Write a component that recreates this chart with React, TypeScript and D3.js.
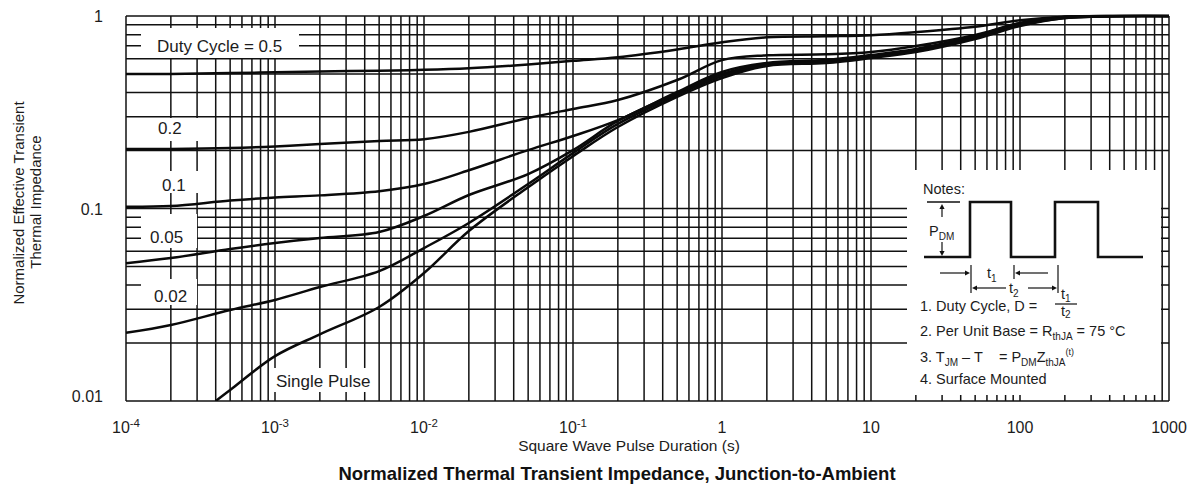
import React from "react";
import * as d3 from "d3";

const W = 1191;
const H = 487;

// Pulse durations (s) at which each duty-cycle curve is sampled
const pulseTimes = [1e-4, 2e-4, 5e-4, 1e-3, 2e-3, 5e-3, 1e-2, 2e-2, 5e-2, 0.1, 0.2, 0.5, 1, 2, 5, 10, 20, 50, 100, 200, 500, 1000];
const singlePulseTimes = [4e-4, 5e-4, 1e-3, 2e-3, 5e-3, 1e-2, 2e-2, 5e-2, 0.1, 0.2, 0.5, 1, 2, 5, 10, 20, 50, 100, 200, 500, 1000];

// Normalized effective transient thermal impedance, per duty cycle
const duty05 = [0.5, 0.5, 0.505, 0.51, 0.515, 0.52, 0.525, 0.535, 0.56, 0.585, 0.61, 0.67, 0.73, 0.775, 0.785, 0.795, 0.825, 0.88, 0.95, 0.99, 1, 1];
const duty02 = [0.204, 0.204, 0.206, 0.21, 0.216, 0.224, 0.229, 0.25, 0.295, 0.329, 0.366, 0.465, 0.59, 0.625, 0.632, 0.65, 0.698, 0.797, 0.92, 0.988, 1, 1];
const duty01 = [0.102, 0.103, 0.11, 0.114, 0.117, 0.123, 0.134, 0.158, 0.201, 0.238, 0.288, 0.403, 0.512, 0.57, 0.591, 0.627, 0.674, 0.787, 0.92, 0.988, 1, 1];
const duty005 = [0.052, 0.0553, 0.0616, 0.0662, 0.0703, 0.0755, 0.0914, 0.1175, 0.151, 0.201, 0.285, 0.398, 0.5, 0.563, 0.584, 0.62, 0.666, 0.778, 0.909, 0.988, 1, 1];
const duty002 = [0.0226, 0.0248, 0.0297, 0.0335, 0.0391, 0.0473, 0.0623, 0.0841, 0.134, 0.194, 0.275, 0.389, 0.488, 0.557, 0.577, 0.612, 0.658, 0.769, 0.898, 0.976, 1, 1];
const singlePulse = [0.01, 0.0114, 0.0171, 0.0222, 0.0308, 0.0462, 0.0764, 0.129, 0.187, 0.265, 0.38, 0.476, 0.55, 0.57, 0.605, 0.65, 0.76, 0.887, 0.976, 1, 1];

// Axis ticks
const xTickValues = [1e-4, 1e-3, 1e-2, 1e-1, 1, 10, 100, 1000];
const xTickBase = ["10", "10", "10", "10", "1", "10", "100", "1000"];
const xTickExp = ["-4", "-3", "-2", "-1", "", "", "", ""];
const yTickValues = [1, 0.1, 0.01];
const yTickLabels = ["1", "0.1", "0.01"];

const curveLabels = ["Duty Cycle = 0.5", "0.2", "0.1", "0.05", "0.02", "Single Pulse"];

const FONT = "'Liberation Sans', Arial, Helvetica, sans-serif";
const INK = "#1c1c1c";

type Pt = [number, number];

function arrowHead(x: number, y: number, dir: "up" | "down" | "left" | "right", key: string) {
  const s = 5;
  const w = 2.6;
  let d = "";
  if (dir === "up") d = `M${x},${y} L${x - w},${y + s} L${x + w},${y + s} Z`;
  if (dir === "down") d = `M${x},${y} L${x - w},${y - s} L${x + w},${y - s} Z`;
  if (dir === "left") d = `M${x},${y} L${x + s},${y - w} L${x + s},${y + w} Z`;
  if (dir === "right") d = `M${x},${y} L${x - s},${y - w} L${x - s},${y + w} Z`;
  return <path key={key} d={d} fill="#111" />;
}

export default function App() {
  const x = d3.scaleLog().domain([1e-4, 1e3]).range([126, 1169]);
  const y = d3.scaleLog().domain([0.01, 1]).range([401, 16]);

  const xGrid: number[] = [];
  for (let k = -4; k <= 2; k++) for (let m = 1; m <= 9; m++) xGrid.push(m * Math.pow(10, k));
  xGrid.push(1000);
  const yGrid: number[] = [];
  for (let k = -2; k <= -1; k++) for (let m = 1; m <= 9; m++) yGrid.push(m * Math.pow(10, k));
  yGrid.push(1);

  const series: { t: number[]; z: number[] }[] = [
    { t: pulseTimes, z: duty05 },
    { t: pulseTimes, z: duty02 },
    { t: pulseTimes, z: duty01 },
    { t: pulseTimes, z: duty005 },
    { t: pulseTimes, z: duty002 },
    { t: singlePulseTimes, z: singlePulse },
  ];

  const line = d3
    .line<Pt>()
    .x((d) => x(d[0]))
    .y((d) => y(d[1]))
    .curve(d3.curveCatmullRom.alpha(0.5));

  // label placement: [text x, baseline y, white backing box x0, y0, x1, y1]
  const labelLayout: [number, number, number, number, number, number][] = [
    [157, 52, 141, 28, 299, 58],
    [158, 134, 141, 118, 204, 141],
    [162, 191, 141, 171, 205, 193],
    [150, 243, 141, 214, 197, 248],
    [154, 302, 141, 279, 197, 305],
    [276, 387, 272, 368, 372, 392],
  ];

  const [x0, x1] = x.range();
  const [yb, yt] = y.range();

  // notes panel origin
  const nx = 907;
  const ny = 170;

  const subFs = 10;
  const nb = "\u00a0";

  return (
    <svg
      width={W}
      height={H}
      viewBox={`0 0 ${W} ${H}`}
      style={{ position: "absolute", left: 0, top: 0, background: "#fff" }}
      fontFamily={FONT}
    >
      <defs>
        <clipPath id="plot-clip">
          <rect x={x0 - 2} y={yt - 1.5} width={x1 - x0 + 4} height={yb - yt + 1.5} />
        </clipPath>
      </defs>
      <rect x={0} y={0} width={W} height={H} fill="#fff" />

      {/* grid */}
      <g stroke="#111" strokeWidth={1.5}>
        {xGrid.map((v, i) => (
          <line key={"vx" + i} x1={x(v)} x2={x(v)} y1={yt} y2={yb} />
        ))}
        {yGrid.map((v, i) => (
          <line key={"hy" + i} x1={x0} x2={x1} y1={y(v)} y2={y(v)} />
        ))}
      </g>

      {/* white backings behind labels and notes */}
      {labelLayout.map((l, i) => (
        <rect key={"bk" + i} x={l[2]} y={l[3]} width={l[4] - l[2]} height={l[5] - l[3]} fill="#fff" />
      ))}
      <rect x={nx} y={ny} width={1161 - nx} height={395 - ny} fill="#fff" />

      {/* curves */}
      <g fill="none" stroke="#0a0a0a" strokeWidth={2.5} strokeLinejoin="round" clipPath="url(#plot-clip)">
        {series.map((s, i) => (
          <path key={"c" + i} d={line(s.t.map((t, j) => [t, s.z[j]] as Pt)) || ""} />
        ))}
      </g>

      {/* curve labels */}
      <g fill={INK} fontSize={17}>
        {curveLabels.map((t, i) => (
          <text key={"lb" + i} x={labelLayout[i][0]} y={labelLayout[i][1]}>
            {t}
          </text>
        ))}
      </g>

      {/* y tick labels */}
      <g fill={INK} fontSize={16} textAnchor="end">
        {yTickValues.map((v, i) => (
          <text key={"yt" + i} x={103} y={y(v) + (i === 2 ? 1 : 6)}>
            {yTickLabels[i]}
          </text>
        ))}
      </g>

      {/* x tick labels */}
      <g fill={INK} fontSize={16} textAnchor="middle">
        {xTickValues.map((v, i) => (
          <text key={"xt" + i} x={x(v)} y={433}>
            {xTickBase[i]}
            {xTickExp[i] ? (
              <tspan fontSize={11.5} dy={-6}>
                {xTickExp[i]}
              </tspan>
            ) : null}
          </text>
        ))}
      </g>

      {/* axis titles */}
      <text x={629} y={451} fontSize={15.5} fill={INK} textAnchor="middle">
        Square Wave Pulse Duration (s)
      </text>
      <text x={617} y={480} fontSize={18.5} fontWeight="bold" fill="#111" textAnchor="middle">
        Normalized Thermal Transient Impedance, Junction-to-Ambient
      </text>
      <g fill={INK} fontSize={15} textAnchor="middle">
        <text transform={`translate(24,203) rotate(-90)`}>Normalized Effective Transient</text>
        <text transform={`translate(41,202) rotate(-90)`}>Thermal Impedance</text>
      </g>

      {/* notes panel */}
      <g transform={`translate(${nx},${ny})`} fill={INK} fontSize={14.5}>
        <text x={16} y={24}>Notes:</text>

        {/* pulse train */}
        <path d="M17,87 H63 V32 H104 V87 H148 V32 H191 V87 H236" fill="none" stroke="#111" strokeWidth={2.6} />

        {/* P_DM amplitude marker */}
        <line x1={20} x2={53} y1={32} y2={32} stroke="#111" strokeWidth={1.3} />
        <line x1={35} x2={35} y1={38} y2={47} stroke="#111" strokeWidth={1.2} />
        <line x1={35} x2={35} y1={72} y2={82} stroke="#111" strokeWidth={1.2} />
        {arrowHead(35, 34, "up", "pa")}
        {arrowHead(35, 86, "down", "pb")}
        <text x={22} y={66}>
          P<tspan fontSize={subFs} dy={4}>DM</tspan>
        </text>

        {/* t1 / t2 dimension marks */}
        <g stroke="#111" strokeWidth={1.2}>
          <line x1={64} x2={64} y1={95} y2={123} />
          <line x1={107} x2={107} y1={95} y2={109} />
          <line x1={151} x2={151} y1={95} y2={123} />
          <line x1={33} x2={58} y1={103} y2={103} />
          <line x1={112} x2={141} y1={103} y2={103} />
          <line x1={70} x2={99} y1={118} y2={118} />
          <line x1={121} x2={146} y1={118} y2={118} />
        </g>
        {arrowHead(63, 103, "right", "t1a")}
        {arrowHead(108, 103, "left", "t1b")}
        {arrowHead(65, 118, "left", "t2a")}
        {arrowHead(150, 118, "right", "t2b")}
        <text x={80} y={108}>
          t<tspan fontSize={subFs} dy={4}>1</tspan>
        </text>
        <text x={102} y={123}>
          t<tspan fontSize={subFs} dy={4}>2</tspan>
        </text>

        <text x={13} y={141}>1. Duty Cycle, D =</text>
        <text x={154} y={129}>
          t<tspan fontSize={subFs} dy={3}>1</tspan>
        </text>
        <line x1={148} x2={170} y1={134} y2={134} stroke="#111" strokeWidth={1.2} />
        <text x={154} y={146}>
          t<tspan fontSize={subFs} dy={2}>2</tspan>
        </text>

        <text x={13} y={166}>
          2. Per Unit Base = R<tspan fontSize={subFs} dy={4}>thJA</tspan>
          <tspan dy={-4}> = 75 °C</tspan>
        </text>
        <text x={13} y={192}>
          3. T<tspan fontSize={subFs} dy={4}>JM</tspan>
          <tspan dy={-4}>{` – T${nb}${nb}${nb} = P`}</tspan>
          <tspan fontSize={subFs} dy={4}>DM</tspan>
          <tspan dy={-4}>Z</tspan>
          <tspan fontSize={subFs} dy={4}>thJA</tspan>
          <tspan fontSize={9} dy={-11}>(t)</tspan>
        </text>
        <text x={13} y={214}>4. Surface Mounted</text>
      </g>
    </svg>
  );
}
